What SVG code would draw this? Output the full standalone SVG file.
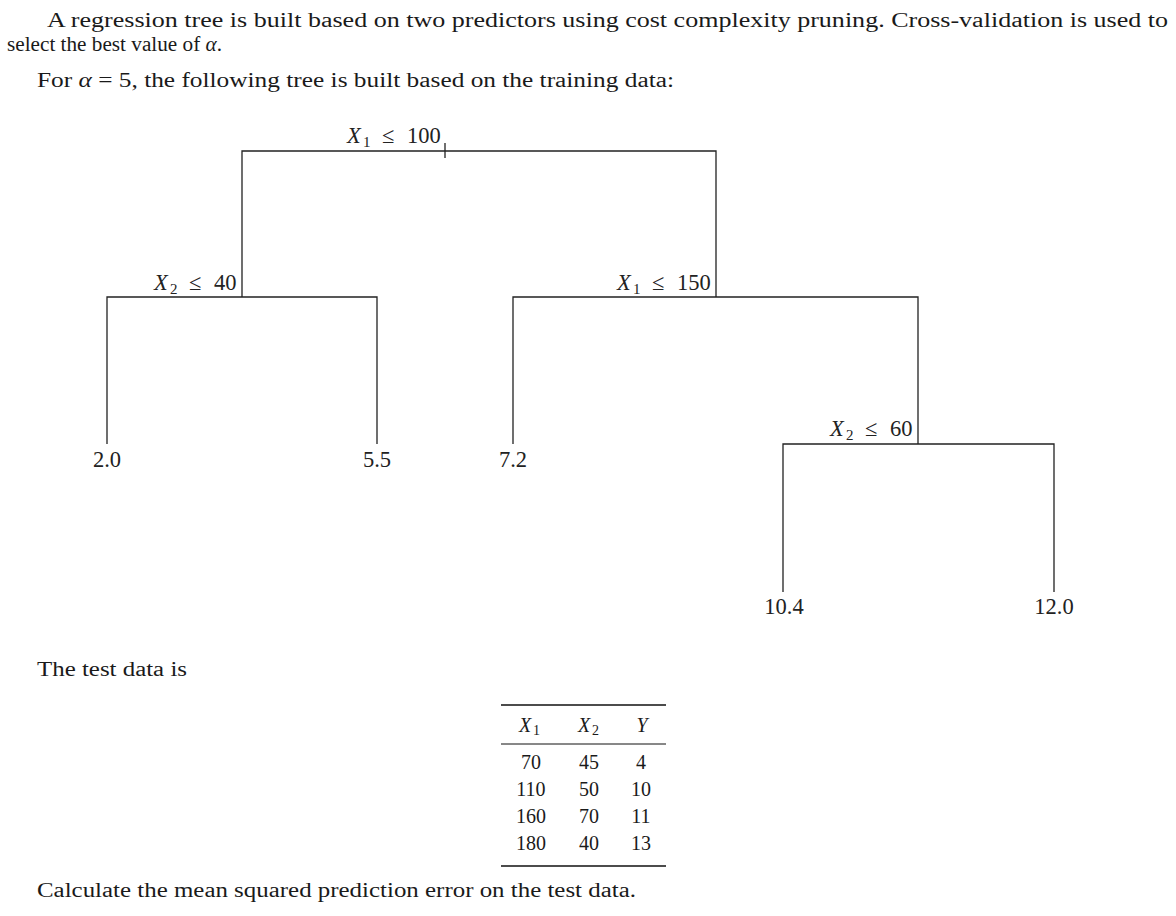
<svg xmlns="http://www.w3.org/2000/svg" width="1176" height="916" viewBox="0 0 1176 916">
<style>
.p{font-family:"Liberation Serif","Times New Roman",serif;font-size:20.5px;fill:#1a1a1a}
.m{font-family:"Liberation Serif","Times New Roman",serif;font-size:22.5px;fill:#222}
.t{font-family:"Liberation Serif","Times New Roman",serif;font-size:20px;fill:#1a1a1a}
.i{font-style:italic}
.sub{font-size:15px}
.tsub{font-size:14px}
.e{stroke:#222;stroke-width:1.3;fill:none}
.rule{stroke:#111;fill:none}
</style>
<rect width="1176" height="916" fill="#fff"/>
<g id="intro">
<text class="p" x="47" y="27" textLength="1121" lengthAdjust="spacingAndGlyphs">A regression tree is built based on two predictors using cost complexity pruning.  Cross-validation is used to</text>
<text class="p" x="7" y="51" textLength="215" lengthAdjust="spacingAndGlyphs">select the best value of <tspan class="i">α</tspan>.</text>
<text class="p" x="37" y="87" textLength="637" lengthAdjust="spacingAndGlyphs">For <tspan class="i">α</tspan> = 5, the following tree is built based on the training data:</text>
</g>
<g id="connectors">
<path class="e" d="M242 297V151H716V297"/>
<path class="e" d="M107 444V297H377V444"/>
<path class="e" d="M513 444V297H918V444"/>
<path class="e" d="M783 592V444H1054V592"/>
</g>
<g id="n_root">
<line class="e" x1="445" y1="143" x2="445" y2="158"/>
<text class="m" y="143"><tspan x="347" class="i">X</tspan><tspan x="363" dy="4" class="sub">1</tspan><tspan x="382" dy="-4">≤</tspan><tspan x="407">100</tspan></text>
</g>
<g id="n_x2_40">
<text class="m" y="290"><tspan x="154" class="i">X</tspan><tspan x="170" dy="4" class="sub">2</tspan><tspan x="189" dy="-4">≤</tspan><tspan x="214">40</tspan></text>
</g>
<g id="n_x1_150">
<text class="m" y="290"><tspan x="617" class="i">X</tspan><tspan x="633" dy="4" class="sub">1</tspan><tspan x="652" dy="-4">≤</tspan><tspan x="677">150</tspan></text>
</g>
<g id="n_x2_60">
<text class="m" y="436"><tspan x="830" class="i">X</tspan><tspan x="846" dy="4" class="sub">2</tspan><tspan x="865" dy="-4">≤</tspan><tspan x="890">60</tspan></text>
</g>
<g id="leaf_1"><text class="m" x="107" y="467" text-anchor="middle">2.0</text></g>
<g id="leaf_2"><text class="m" x="377" y="467" text-anchor="middle">5.5</text></g>
<g id="leaf_3"><text class="m" x="513" y="467" text-anchor="middle">7.2</text></g>
<g id="leaf_4"><text class="m" x="784" y="614" text-anchor="middle">10.4</text></g>
<g id="leaf_5"><text class="m" x="1054" y="614" text-anchor="middle">12.0</text></g>
<g id="testdata">
<text class="p" x="37" y="676" textLength="150" lengthAdjust="spacingAndGlyphs">The test data is</text>
<line class="rule" x1="501" y1="705" x2="666" y2="705" stroke-width="1.6"/>
<text class="t" y="732"><tspan x="519" class="i">X</tspan><tspan x="533" dy="3" class="tsub">1</tspan></text>
<text class="t" y="732"><tspan x="578" class="i">X</tspan><tspan x="592" dy="3" class="tsub">2</tspan></text>
<text class="t i" x="642" y="732" text-anchor="middle">Y</text>
<line class="rule" x1="501" y1="744" x2="666" y2="744" stroke-width="1"/>
<g class="t" text-anchor="middle">
<text x="531" y="769">70</text><text x="589" y="769">45</text><text x="641" y="769">4</text>
<text x="531" y="796">110</text><text x="589" y="796">50</text><text x="641" y="796">10</text>
<text x="531" y="823">160</text><text x="589" y="823">70</text><text x="641" y="823">11</text>
<text x="531" y="850">180</text><text x="589" y="850">40</text><text x="641" y="850">13</text>
</g>
<line class="rule" x1="501" y1="866" x2="666" y2="866" stroke-width="1.6"/>
<text class="p" x="37" y="897" textLength="599" lengthAdjust="spacingAndGlyphs">Calculate the mean squared prediction error on the test data.</text>
</g>
</svg>
